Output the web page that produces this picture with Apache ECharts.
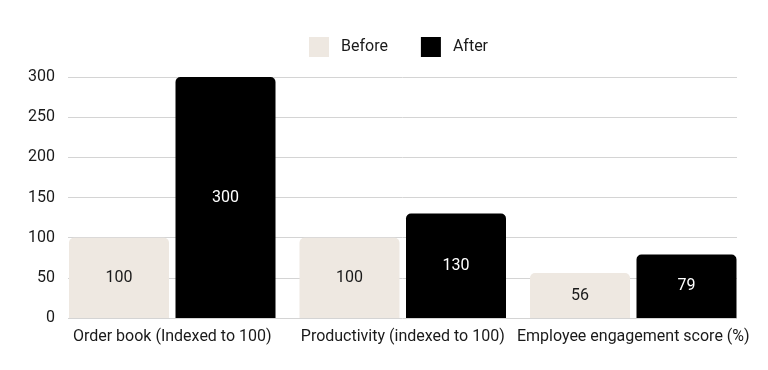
<!DOCTYPE html>
<html><head><meta charset="utf-8">
<script src="https://cdn.jsdelivr.net/npm/echarts@6/dist/echarts.min.js"></script>
<style>html,body{margin:0;padding:0;background:#fff}#c{width:768px;height:370px}</style>
</head><body><div id="c"></div>
<script>
const categories = ['Order book (Indexed to 100)', 'Productivity (indexed to 100)', 'Employee engagement score (%)'];
const beforeValues = [100, 100, 56];
const afterValues = [300, 130, 79];
const yTicks = [0, 50, 100, 150, 200, 250, 300];
const seriesNames = ['Before', 'After'];

const chart = echarts.init(document.getElementById('c'));
const font = 'Roboto';
const textColor = '#1a1a1a';
chart.setOption({
  animation: false,
  textStyle: { fontFamily: font },
  legend: {
    top: 32, left: 304, itemWidth: 20, itemHeight: 20, itemGap: 33, icon: 'rect',
    textStyle: { fontFamily: font, fontSize: 16, color: textColor, padding: [0, 0, 0, 7] },
    data: seriesNames
  },
  grid: [
    { left: 57, right: 19.5, top: 77, bottom: 52 },
    { left: 68, right: 31, top: 77, bottom: 52 }
  ],
  xAxis: [
    { type: 'category', gridIndex: 0, data: categories,
      axisLine: { show: false }, axisTick: { show: false },
      axisLabel: { color: textColor, fontSize: 16, fontFamily: font, margin: 11, interval: 0 } },
    { type: 'category', gridIndex: 1, data: categories, show: false }
  ],
  yAxis: [
    { type: 'value', gridIndex: 0, min: 0, max: yTicks[yTicks.length - 1], interval: 50, show: false, splitLine: { show: false } },
    { type: 'value', gridIndex: 1, min: 0, max: yTicks[yTicks.length - 1], interval: 50,
      axisLine: { show: false }, axisTick: { show: false },
      axisLabel: { color: textColor, fontSize: 16, fontFamily: font, margin: 13 },
      splitLine: { lineStyle: { color: '#d4d4d4', width: 1 } } }
  ],
  series: [
    { name: seriesNames[0], type: 'bar', xAxisIndex: 0, yAxisIndex: 0, data: beforeValues,
      barWidth: 100, barGap: '6.5%', z: 3,
      itemStyle: { color: '#eee8e1', borderRadius: [5, 5, 0, 0] },
      label: { show: true, position: 'inside', color: textColor, fontSize: 16, fontFamily: font } },
    { name: seriesNames[1], type: 'bar', xAxisIndex: 0, yAxisIndex: 0, data: afterValues,
      barWidth: 100, z: 3,
      itemStyle: { color: '#000000', borderRadius: [5, 5, 0, 0] },
      label: { show: true, position: 'inside', color: '#ffffff', fontSize: 16, fontFamily: font } }
  ]
});
</script></body></html>
